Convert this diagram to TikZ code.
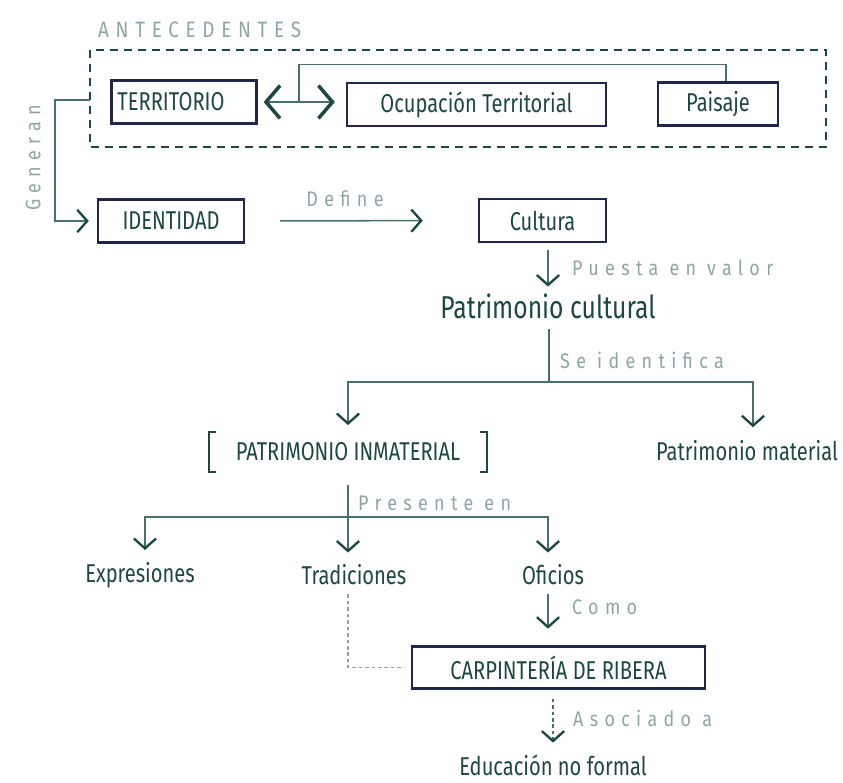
\documentclass[tikz,border=0pt]{standalone}
\usepackage{fontspec}
\setmainfont{Fira Sans}[FakeStretch=0.78]
\newfontfamily\etiqfont{Fira Sans}[FakeStretch=0.85,LetterSpace=30]
\usetikzlibrary{arrows.meta,calc}
\definecolor{txtc}{HTML}{1D4743}
\definecolor{boxc}{HTML}{22264A}
\definecolor{linec}{HTML}{4A706C}
\definecolor{lblc}{HTML}{8EA6A3}
\tikzset{
	caja/.style={draw=boxc, line width=2pt, text=txtc, inner sep=0pt, minimum height=1.28cm, font=\fontsize{22}{24}\selectfont},
	texto/.style={text=txtc, inner sep=0pt, font=\fontsize{22}{24}\selectfont},
	etiqueta/.style={text=lblc, inner sep=0pt, font=\etiqfont\fontsize{18}{20}\selectfont},
	linea/.style={draw=linec, line width=1.3pt},
	flecha/.style={linea, -{Straight Barb[length=8.5pt,width=19pt,line width=2pt,color=txtc]}},
	puntadoble/.tip={Straight Barb[length=12pt,width=28pt,line width=3pt,color=txtc]},
}

\begin{document}
\begin{tikzpicture}[x=0.03cm,y=-0.03cm]
		%%%%% START %%%%%
		\useasboundingbox (0,0) rectangle (843,782);
		
		% antecedentes
		\node[etiqueta, anchor=west, font=\etiqfont\fontsize{19}{20}\selectfont] (ante) at (98,30) {ANTECEDENTES};
		\draw[draw=txtc, line width=1.7pt, dash pattern=on 0.24cm off 0.18cm] (90,50) rectangle (826,147);
		\coordinate (gen) at (90,100);
		\coordinate (union) at (299,101);
		
		\node[caja, minimum width=4.35cm, text width=3.99cm, inner xsep=0.18cm, align=left] (terr) at (184,102) {TERRITORIO};
		\node[caja, minimum width=7.77cm] (ocup) at (476.5,104.5) {Ocupación Territorial};
		\node[caja, minimum width=3.6cm] (pais) at (718,104) {Paisaje};
		
		\draw[draw=linec, line width=1.5pt, puntadoble-puntadoble, shorten <=0.18cm, shorten >=0.33cm] (terr.east) -- (terr.east -| ocup.west);
		\draw[linea] ([xshift=0.24cm]pais.north) -- ++(0,-17) -| (union);
		
		% identidad y cultura
		\node[caja, minimum width=4.38cm] (iden) at (171,221) {IDENTIDAD};
		\node[caja, minimum width=3.81cm] (cult) at (542.5,220.5) {Cultura};
		
		\draw[flecha, shorten >=0.24cm] (gen) -- ++(-35,0) |- (iden.west);
		\node[etiqueta, rotate=90] (genl) at (33,158) {Generan};
		
		\draw[flecha, shorten <=1.05cm, shorten >=1.65cm] (iden.east) -- (cult.west);
		\node[etiqueta] (defl) at (345,199) {Define};
		
		% patrimonio
		\node[texto, font=\fontsize{27}{30}\selectfont] (patc) at (548,306) {Patrimonio cultural};
		\draw[flecha, shorten <=0.21cm, shorten >=0.2cm] (cult.south -| patc.north) -- (patc.north);
		\node[etiqueta, anchor=west] (puel) at (572,268) {Puesta en valor};
		
		\coordinate (sei) at (549,382);
		\draw[linea, shorten <=0.3cm] (patc.south -| sei) -- (sei);
		\node[etiqueta, anchor=west] (seil) at (560,360) {Se identifica};
		
		\node[texto, minimum width=8.34cm, minimum height=1.2cm] (inmat) at (348,452) {PATRIMONIO INMATERIAL};
		\node[texto] (mat) at (747,451) {Patrimonio material};
		\draw[draw=txtc, line width=1.7pt] ([xshift=0.22cm]inmat.north west) -| (inmat.south west) -- ++(7,0);
		\draw[draw=txtc, line width=1.7pt] ([xshift=-0.22cm]inmat.north east) -| (inmat.south east) -- ++(-7,0);
		
		\draw[flecha, shorten >=0.2cm] (sei) -| (inmat.north);
		\draw[flecha, shorten >=0.4cm] (sei) -| ([xshift=0.18cm]mat.north);
		
		% presente en
		\coordinate (pre) at (348,517);
		\draw[linea, shorten <=0.39cm] (inmat.south) -- (pre);
		\node[etiqueta, anchor=west] (prel) at (358,503) {Presente en};
		
		\node[texto] (expr) at (140,575) {Expresiones};
		\node[texto] (trad) at (354,575) {Tradiciones};
		\node[texto] (ofic) at (553,575) {Oficios};
		
		\draw[flecha, shorten >=0.36cm] (pre) -| ([xshift=0.15cm]expr.north);
		\draw[flecha, shorten >=0.36cm] (pre) -- (pre |- trad.north);
		\draw[flecha, shorten >=0.36cm] (pre) -| ([xshift=-0.15cm]ofic.north);
		
		% carpinteria
		\node[caja, minimum width=8.79cm, minimum height=1.26cm] (carp) at (558.5,667.5) {CARPINTERÍA DE RIBERA};
		\draw[flecha, shorten <=0.27cm, shorten >=0.5cm] ([xshift=-0.15cm]ofic.south) -- ([xshift=-0.15cm]ofic.south |- carp.north);
		\node[etiqueta, anchor=west] (comol) at (572,607) {Como};
		
		\draw[draw=lblc, line width=1.3pt, dash pattern=on 3pt off 2.5pt, shorten <=0.27cm, shorten >=0.21cm] ([xshift=-0.18cm]trad.south) |- (carp.west);
		
		\node[texto] (edu) at (553,765) {Educación no formal};
		\draw[flecha, dash pattern=on 3pt off 2.5pt, shorten <=0.27cm, shorten >=0.35cm] (carp.south -| edu.north) -- (edu.north);
		\node[etiqueta, anchor=west] (asol) at (573,718) {Asociado a};
		
		%%%%% END %%%%%
	\end{tikzpicture}
\end{document}
